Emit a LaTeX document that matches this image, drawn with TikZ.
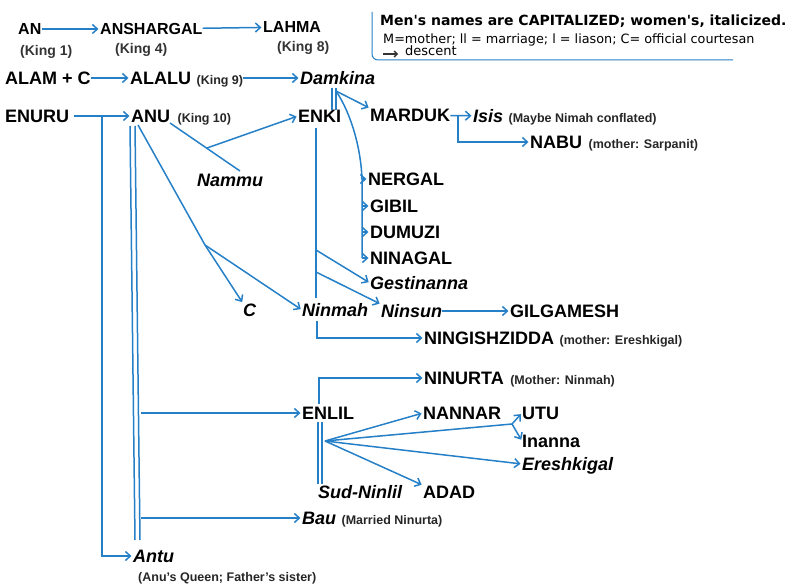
\documentclass[tikz,border=0pt]{standalone}
\usepackage{fontspec}
\setmainfont{Liberation Sans}
\newfontfamily\legendfont{DejaVu Sans}
\usetikzlibrary{arrows.meta,positioning,calc}

\definecolor{linkblue}{RGB}{38,128,200}
\tikzset{
  man/.style={anchor=west,inner sep=0pt,text height=13pt,text depth=0pt,
    font=\fontsize{18}{20}\selectfont\bfseries},
  woman/.style={man,font=\fontsize{18}{20}\selectfont\bfseries\itshape},
  elder/.style={man,text height=11.5pt,font=\fontsize{16}{18}\selectfont\bfseries},
  kingnote/.style={anchor=west,inner sep=0pt,text=black!80,
    font=\fontsize{14}{16}\selectfont\bfseries},
  note/.style={inner sep=0pt,text=black!85,font=\fontsize{12.5}{14}\selectfont\bfseries},
  descent/.style={draw=linkblue,line width=1.5pt,shorten >=1.5pt,
    -{Straight Barb[length=5pt,width=9pt]}},
  tie/.style={draw=linkblue,line width=1.5pt}
}

\begin{document}
\begin{tikzpicture}[x=1pt,y=-1pt]
\useasboundingbox (0,0) rectangle (787,588);
% Legend
  \draw[tie,line width=1pt,rounded corners=6pt] (372,12) -- (372,60) -- (733,60);
  \node[anchor=west,inner sep=0pt,font=\legendfont\fontsize{14}{16}\selectfont\bfseries]
    (legendA) at (380,21) {Men's names are CAPITALIZED; women's, italicized.};
  \node[anchor=west,inner sep=0pt,font=\legendfont\fontsize{12.8}{14}\selectfont]
    (legendB) at (383,40) {M=mother; ll = marriage; l = liason; C= official courtesan};
  \node[anchor=west,inner sep=0pt,font=\legendfont\fontsize{13}{14}\selectfont]
    (legendC) at (405,51) {descent};
  \coordinate (legarrow) at (383,54);
  \draw[draw=black!80,line width=1.3pt,-{Straight Barb[length=3pt,width=6pt]}] (legarrow) -- ++(15,0);
% First kings
  \node[elder] (an) at (18,29) {AN};
  \node[elder] (anshargal) at (100,29) {ANSHARGAL};
  \node[elder] (lahma) at (263,27) {LAHMA};
  \node[kingnote] (king1) at (20,52) {(King 1)};
  \node[kingnote] (king4) at (115,50) {(King 4)};
  \node[kingnote] (king8) at (277,48) {(King 8)};
  \draw[descent] (an) -- (anshargal);
  \draw[descent] (anshargal) -- (lahma);
% Alalu line
  \node[man] (alam) at (5,78) {ALAM + C};
  \node[man] (alalu) at (130,78) {ALALU};
  \node[note,base right=5pt of alalu] (king9) {(King 9)};
  \node[woman] (damkina) at (300,78) {Damkina};
  \draw[descent] (alam) -- (alalu);
  \draw[descent] (king9.east |- damkina.west) -- (damkina);
% Anu line
  \node[man] (enuru) at (5,116) {ENURU};
  \node[man] (anu) at (131,116) {ANU};
  \node[note,base right=7pt of anu] (king10) {(King 10)};
  \node[woman] (antu) at (133,556) {Antu};
  \node[note,anchor=west] (antunote) at (138,578) {(Anu's Queen; Father's sister)};
  \coordinate (enurubr) at (102,116);
  \draw[descent] ($(enuru.east)+(5,0)$) -- (anu);
  \draw[descent] (enurubr) |- (antu.west);
  \coordinate (anuA) at (130,126);
  \coordinate (anuB) at (135,540);
  \draw[tie] (anuA) -- (anuB);
  \draw[tie] ($(anuA)+(5,0)$) -- ($(anuB)+(5,0)$);
% Anu's children
  \node[man] (enki) at (298,116) {ENKI};
  \node[woman] (nammu) at (197,180) {Nammu};
  \node[woman] (c) at (243,310) {C};
  \node[woman] (ninmah) at (302,310) {Ninmah};
  \node[man] (enlil) at (302,413) {ENLIL};
  \node[woman] (bau) at (302,518) {Bau};
  \node[note,base right=5pt of bau] (baunote) {(Married Ninurta)};
  \coordinate (anuNE) at (170,123);
  \coordinate (nammutop) at (240,171);
  \coordinate (nammubr) at (207,148);
  \draw[tie] (anuNE) -- (nammutop);
  \draw[descent] (nammubr) -- (enki.west);
  \coordinate (anuS) at (138,125);
  \coordinate (cbr) at (205,245);
  \draw[tie] (anuS) -- (cbr);
  \draw[descent] (cbr) -- (c.north west);
  \draw[descent] (cbr) -- (ninmah.west);
  \draw[descent] (141,413) -- (enlil);
  \draw[descent] (141,518) -- (bau);
% Enki and Damkina
  \node[man] (marduk) at (370,115) {MARDUK};
  \node[woman] (isis) at (473,116) {Isis};
  \node[note,base right=5pt of isis] (isisnote) {(Maybe Nimah conflated)};
  \node[man] (nabu) at (530,142) {NABU};
  \node[note,base right=6pt of nabu] (nabunote) {(mother: Sarpanit)};
  \node[man] (nergal) at (368,179) {NERGAL};
  \node[man] (gibil) at (370,206) {GIBIL};
  \node[man] (dumuzi) at (370,232) {DUMUZI};
  \node[man] (ninagal) at (370,258) {NINAGAL};
  \coordinate (dkA) at (332,88);
  \coordinate (dkB) at (332,110);
  \draw[tie] (dkA) -- (dkB);
  \draw[tie] ($(dkA)+(4,0)$) -- ($(dkB)+(4,0)$);
  \coordinate (dkhub) at (336,91);
  \draw[descent] (dkhub) -- (marduk.north west);
  \coordinate (sonsline) at (362,179);
  \draw[tie] (dkhub) .. controls (352,115) and (361,150) .. (sonsline) -- (362,258);
  \foreach \son in {nergal,gibil,dumuzi,ninagal}
    \draw[descent] (sonsline |- \son.west) -- (\son.west);
  \coordinate (mardukbr) at (458,116);
  \draw[descent] (marduk) -- (isis);
  \draw[descent] (mardukbr) |- (nabu.west);
% Enki and Ninmah
  \node[woman] (gestinanna) at (370,283) {Gestinanna};
  \node[woman] (ninsun) at (381,311) {Ninsun};
  \node[man] (gilgamesh) at (510,311) {GILGAMESH};
  \node[man] (ningishzidda) at (424,338) {NINGISHZIDDA};
  \node[note,base right=5pt of ningishzidda] (ningnote) {(mother: Ereshkigal)};
  \coordinate (enkiline) at (316,128);
  \draw[tie] (enkiline) -- (316,298);
  \draw[descent] (316,250) -- (gestinanna.west);
  \draw[descent] (316,272) -- (ninsun.north west);
  \draw[descent] (ninsun) -- (gilgamesh);
  \coordinate (ninmahbr) at (317,321);
  \draw[descent] (ninmahbr) |- (ningishzidda.west);
% Enlil
  \node[man] (ninurta) at (424,378) {NINURTA};
  \node[note,base right=6pt of ninurta] (ninurtanote) {(Mother: Ninmah)};
  \node[man] (nannar) at (423,413) {NANNAR};
  \node[man] (utu) at (522,413) {UTU};
  \node[man] (inanna) at (522,441) {Inanna};
  \node[woman] (ereshkigal) at (522,464) {Ereshkigal};
  \node[woman] (sudninlil) at (318,492) {Sud-Ninlil};
  \node[man] (adad) at (423,492) {ADAD};
  \coordinate (enliltop) at (319,404);
  \draw[descent] (enliltop) |- (ninurta.west);
  \coordinate (enlilA) at (318,422);
  \coordinate (enlilB) at (318,484);
  \draw[tie] (enlilA) -- (enlilB);
  \draw[tie] ($(enlilA)+(4,0)$) -- ($(enlilB)+(4,0)$);
  \coordinate (enlilhub) at (325,441);
  \coordinate (twinsbr) at (512,424);
  \draw[descent] (enlilhub) -- (nannar.west);
  \draw[tie] (enlilhub) -- (twinsbr);
  \draw[descent] (twinsbr) -- (utu.west);
  \draw[descent] (twinsbr) -- (inanna.west);
  \draw[descent] (enlilhub) -- (ereshkigal.west);
  \draw[descent] (enlilhub) -- (adad.north west);
\end{tikzpicture}
\end{document}
